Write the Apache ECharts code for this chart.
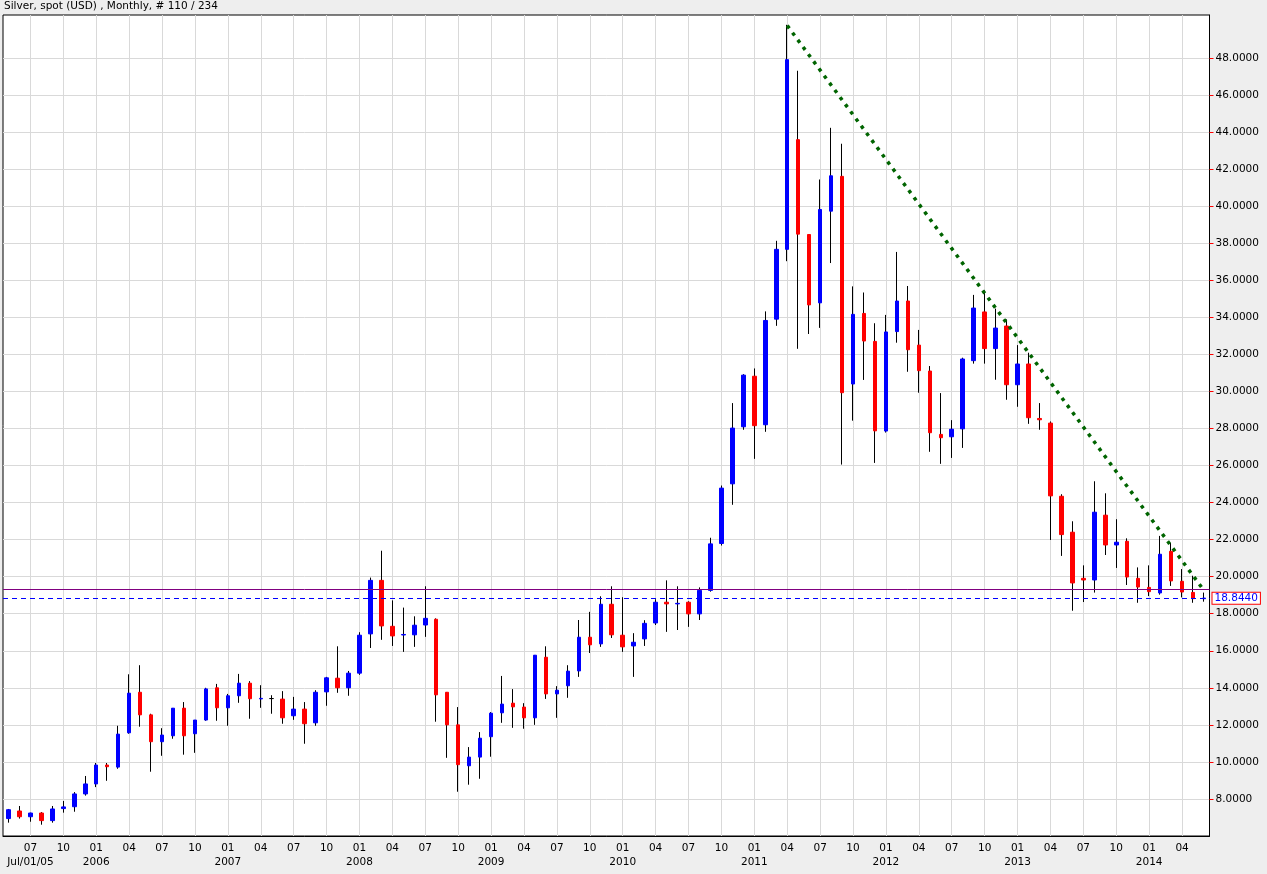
<!DOCTYPE html>
<html>
<head>
<meta charset="utf-8">
<title>Silver, spot (USD), Monthly</title>
<script src="https://cdn.jsdelivr.net/npm/echarts@6.0.0/dist/echarts.min.js"></script>
<style>
    html, body { margin: 0; padding: 0; background: #eeeeee; }
    #chart { width: 1267px; height: 874px; }
</style>
</head>
<body>
<div id="chart"></div>
<script>
var TITLE = 'Silver, spot (USD) , Monthly, # 110 / 234';

var months = [
    '2005-05','2005-06','2005-07','2005-08','2005-09','2005-10','2005-11','2005-12',
    '2006-01','2006-02','2006-03','2006-04','2006-05','2006-06','2006-07','2006-08','2006-09','2006-10','2006-11','2006-12',
    '2007-01','2007-02','2007-03','2007-04','2007-05','2007-06','2007-07','2007-08','2007-09','2007-10','2007-11','2007-12',
    '2008-01','2008-02','2008-03','2008-04','2008-05','2008-06','2008-07','2008-08','2008-09','2008-10','2008-11','2008-12',
    '2009-01','2009-02','2009-03','2009-04','2009-05','2009-06','2009-07','2009-08','2009-09','2009-10','2009-11','2009-12',
    '2010-01','2010-02','2010-03','2010-04','2010-05','2010-06','2010-07','2010-08','2010-09','2010-10','2010-11','2010-12',
    '2011-01','2011-02','2011-03','2011-04','2011-05','2011-06','2011-07','2011-08','2011-09','2011-10','2011-11','2011-12',
    '2012-01','2012-02','2012-03','2012-04','2012-05','2012-06','2012-07','2012-08','2012-09','2012-10','2012-11','2012-12',
    '2013-01','2013-02','2013-03','2013-04','2013-05','2013-06','2013-07','2013-08','2013-09','2013-10','2013-11','2013-12',
    '2014-01','2014-02','2014-03','2014-04','2014-05','2014-06'
];

var opens = [
    6.94, 7.35, 7.04, 7.24, 6.83, 7.48, 7.58, 8.27,
    8.81, 9.83, 9.72, 11.57, 13.76, 12.54, 11.09, 11.41, 12.90, 11.52, 12.26, 14.00,
    12.92, 13.57, 14.25, 13.40, 13.42, 13.39, 12.49, 12.85, 12.11, 13.78, 14.52, 14.00,
    14.79, 16.91, 19.80, 17.32, 16.85, 16.86, 17.39, 17.70, 13.76, 12.00, 9.79, 10.26,
    11.36, 12.65, 13.17, 12.96, 12.38, 15.65, 13.67, 14.11, 14.91, 16.73, 16.37, 18.51,
    16.84, 16.26, 16.64, 17.50, 18.62, 18.53, 18.62, 17.99, 19.26, 21.79, 25.01, 28.09,
    30.82, 28.20, 33.90, 37.67, 43.59, 38.47, 34.78, 39.73, 41.61, 30.40, 34.21, 32.70,
    27.86, 33.23, 34.88, 32.50, 31.10, 27.68, 27.55, 27.98, 31.66, 34.29, 32.31, 33.53,
    30.36, 31.48, 28.54, 28.29, 24.34, 22.40, 19.91, 19.82, 23.32, 21.71, 21.91, 19.91,
    19.42, 19.12, 21.37, 19.75, 19.15, 18.81
];

var closes = [
    7.42, 7.04, 7.24, 6.83, 7.46, 7.57, 8.27, 8.81,
    9.83, 9.74, 11.50, 13.71, 12.54, 11.09, 11.45, 12.90, 11.41, 12.26, 13.94, 12.92,
    13.57, 14.25, 13.41, 13.43, 13.42, 12.38, 12.85, 12.06, 13.76, 14.54, 14.00, 14.79,
    16.84, 19.80, 17.34, 16.80, 16.88, 17.38, 17.75, 13.62, 12.00, 9.85, 10.26, 11.28,
    12.63, 13.12, 12.97, 12.38, 15.76, 13.67, 13.87, 14.90, 16.73, 16.32, 18.51, 16.86,
    16.21, 16.46, 17.48, 18.62, 18.53, 18.56, 17.99, 19.26, 21.77, 24.78, 28.02, 30.88,
    28.15, 33.83, 37.67, 47.91, 38.49, 34.67, 39.82, 41.64, 29.93, 34.16, 32.72, 27.87,
    33.21, 34.88, 32.25, 31.12, 27.77, 27.50, 27.96, 31.75, 34.50, 32.31, 33.42, 30.36,
    31.48, 28.58, 28.47, 24.36, 22.27, 19.66, 19.82, 23.48, 21.71, 21.86, 19.98, 19.44,
    19.19, 21.21, 19.77, 19.17, 18.81, 18.844
];

var lows = [
    6.72, 6.94, 6.77, 6.61, 6.72, 7.26, 7.31, 8.18,
    8.64, 8.98, 9.63, 11.52, 11.90, 9.47, 10.33, 11.25, 10.39, 10.49, 12.22, 12.22,
    11.95, 13.19, 12.33, 12.92, 12.60, 12.06, 12.27, 10.98, 11.95, 13.03, 13.73, 13.57,
    14.70, 16.15, 16.59, 16.26, 15.94, 16.21, 16.75, 12.17, 10.22, 8.39, 8.77, 9.09,
    10.28, 12.11, 11.84, 11.79, 12.00, 13.40, 12.38, 13.46, 14.59, 15.88, 16.21, 16.69,
    15.94, 14.59, 16.26, 17.39, 17.02, 17.12, 17.29, 17.66, 19.19, 21.68, 23.88, 27.93,
    26.36, 27.82, 33.54, 37.03, 32.30, 33.10, 33.43, 36.93, 26.05, 28.42, 30.62, 26.14,
    27.78, 32.63, 31.06, 29.93, 26.74, 26.09, 26.41, 26.95, 31.50, 31.50, 30.63, 29.55,
    29.17, 28.25, 27.93, 21.98, 21.12, 18.16, 18.63, 19.14, 21.17, 20.47, 19.55, 18.59,
    18.95, 19.03, 19.50, 18.88, 18.59, 18.65
];

var highs = [
    7.46, 7.62, 7.26, 7.29, 7.62, 7.89, 8.37, 9.24,
    9.94, 9.94, 11.95, 14.73, 15.22, 12.60, 11.82, 12.90, 13.23, 12.26, 14.00, 14.21,
    13.67, 14.75, 14.36, 14.14, 13.60, 13.82, 13.51, 13.23, 13.87, 14.59, 16.24, 14.91,
    17.00, 19.95, 21.40, 18.72, 18.33, 17.86, 19.48, 17.75, 13.76, 12.96, 10.80, 11.61,
    12.69, 14.64, 13.93, 13.17, 15.76, 16.24, 14.09, 15.22, 17.66, 18.10, 18.94, 19.48,
    18.89, 16.95, 17.65, 18.78, 19.80, 19.48, 18.67, 19.42, 22.10, 24.92, 29.37, 30.93,
    31.24, 34.32, 38.13, 49.79, 47.31, 38.47, 41.44, 44.23, 43.37, 35.67, 35.34, 33.68,
    34.13, 37.53, 35.69, 33.32, 31.37, 29.91, 28.45, 31.82, 35.21, 35.46, 34.47, 33.89,
    32.50, 32.09, 29.37, 28.38, 24.45, 22.99, 20.61, 25.15, 24.50, 23.10, 22.07, 20.50,
    20.61, 22.20, 21.82, 20.41, 20.05, 19.14
];

// price ticks on the right axis
var yTicks = [8, 10, 12, 14, 16, 18, 20, 22, 24, 26, 28, 30, 32, 34, 36, 38, 40, 42, 44, 46, 48];

// resistance line drawn on the chart, from the Apr 2011 top to the last bar
var trendPoints = [['2011-04', 49.75], ['2014-06', 19.25]];

var lastPrice = 18.844;
var purpleLevel = 19.30;

var FONT = 'DejaVu Sans';
var GRID_COLOR = '#d9d9d9';

function isQuarter(value) {
    var m = value.slice(5);
    return m === '01' || m === '04' || m === '07' || m === '10';
}

function monthLabel(value, index) {
    var m = value.slice(5);
    if (m === '01') {
        return m + '\n' + value.slice(0, 4);
    }
    if (index === 2) {
        return m + '\nJul/01/05';
    }
    return m;
}

function buildWicks() {
    var list = [];
    for (var i = 0; i < months.length; i++) {
        list.push([opens[i], closes[i], lows[i], highs[i]]);
    }
    return list;
}

function buildBodies() {
    var list = [];
    for (var i = 0; i < months.length; i++) {
        var o = opens[i], c = closes[i];
        list.push([o, c, Math.min(o, c), Math.max(o, c)]);
    }
    return list;
}

// vertical grid lines sit on the quarter bars, so draw them as marklines
function buildGridLines() {
    var list = [];
    months.forEach(function (m) {
        if (isQuarter(m)) {
            list.push({ xAxis: m });
        }
    });
    return list;
}

var myChart = echarts.init(document.getElementById('chart'));

var option = {
    animation: false,
    backgroundColor: '#eeeeee',
    textStyle: { fontFamily: FONT },
    title: {
        text: TITLE,
        left: 1,
        top: 1,
        padding: [0, 3],
        textStyle: {
            fontFamily: FONT,
            fontSize: 10.5,
            fontWeight: 'normal',
            color: '#000'
        }
    },
    grid: {
        left: 3,
        right: 57.5,
        top: 15,
        bottom: 38,
        show: true,
        backgroundColor: '#ffffff',
        borderColor: '#000000',
        borderWidth: 1
    },
    xAxis: {
        type: 'category',
        data: months,
        boundaryGap: true,
        axisLine: { show: true, lineStyle: { color: '#000', width: 1 } },
        axisTick: {
            show: true,
            inside: true,
            length: 2,
            alignWithLabel: true,
            interval: function (i, v) { return isQuarter(v); },
            lineStyle: { color: '#ff0000', width: 1 }
        },
        splitLine: { show: false },
        axisLabel: {
            interval: function (i, v) { return isQuarter(v); },
            formatter: monthLabel,
            fontFamily: FONT,
            fontSize: 10.5,
            lineHeight: 14,
            color: '#000',
            margin: 5
        }
    },
    yAxis: {
        type: 'value',
        position: 'right',
        min: 6,
        max: 50.32,
        interval: 2,
        axisLine: { show: true, lineStyle: { color: '#000', width: 1 } },
        axisTick: {
            show: true,
            length: 4,
            customValues: yTicks,
            lineStyle: { color: '#ff0000', width: 1 }
        },
        splitLine: { show: true, lineStyle: { color: GRID_COLOR, width: 1 } },
        axisLabel: {
            customValues: yTicks,
            fontFamily: FONT,
            fontSize: 10.5,
            color: '#000',
            margin: 6,
            formatter: function (v) {
                if (v < 7 || v > 49) return '';
                return v.toFixed(4);
            }
        }
    },
    series: [
        {
            name: 'wicks',
            type: 'candlestick',
            data: buildWicks(),
            barWidth: 1,
            itemStyle: {
                color: '#000',
                color0: '#000',
                borderColor: '#000',
                borderColor0: '#000',
                borderColorDoji: '#000',
                borderWidth: 1
            },
            markLine: {
                silent: true,
                z: 1,
                symbol: ['none', 'none'],
                lineStyle: { color: GRID_COLOR, width: 1, type: 'solid' },
                label: { show: false },
                data: buildGridLines()
            }
        },
        {
            name: 'bodies',
            type: 'candlestick',
            data: buildBodies(),
            barWidth: 4,
            itemStyle: {
                color: '#0000ff',
                color0: '#ff0000',
                borderColor: '#0000ff',
                borderColor0: '#ff0000',
                borderColorDoji: '#000',
                borderWidth: 1
            },
            markLine: {
                silent: true,
                symbol: ['none', 'none'],
                label: { show: false },
                data: [
                    {
                        yAxis: purpleLevel,
                        lineStyle: { color: '#800080', width: 1, type: 'solid' }
                    },
                    {
                        yAxis: lastPrice,
                        lineStyle: { color: '#0000ff', width: 1, type: [5, 4] },
                        label: {
                            show: true,
                            position: 'end',
                            distance: 3,
                            formatter: lastPrice.toFixed(4),
                            fontFamily: FONT,
                            fontSize: 10.5,
                            color: '#0000ff',
                            backgroundColor: '#ffffff',
                            borderColor: '#ff0000',
                            borderWidth: 1,
                            padding: [0, 2, 0, 2],
                            lineHeight: 11
                        }
                    }
                ]
            }
        },
        {
            name: 'trend',
            type: 'line',
            z: 6,
            data: trendPoints,
            symbol: 'none',
            silent: true,
            lineStyle: { color: '#006400', width: 3.5, type: [3.5, 5.4] }
        }
    ]
};

myChart.setOption(option);
</script>
</body>
</html>
